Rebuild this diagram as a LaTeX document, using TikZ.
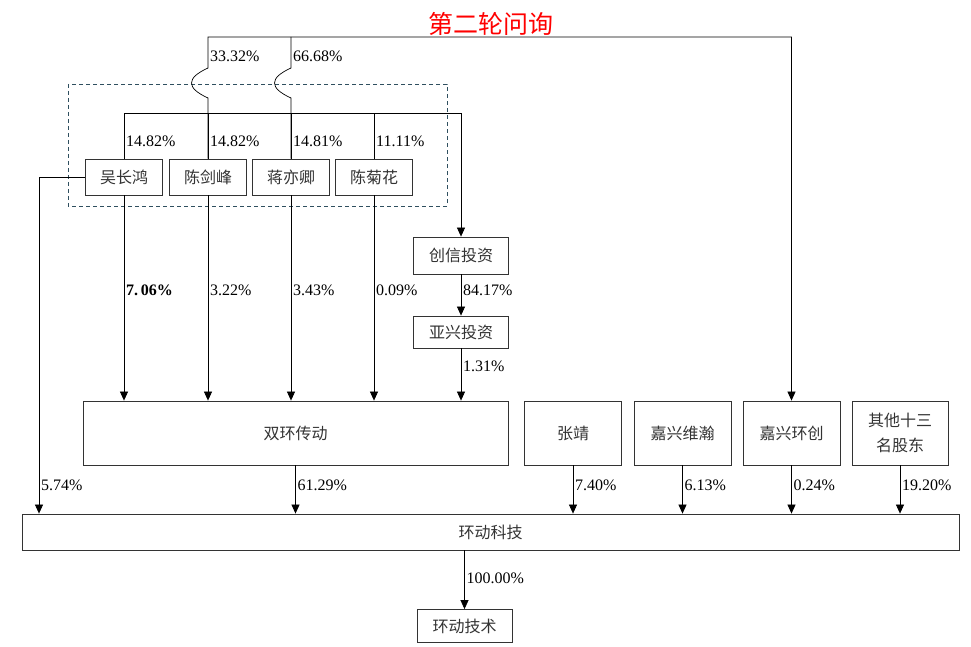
\documentclass[tikz,border=0pt]{standalone}
\usepackage{fontspec}
\setmainfont{Liberation Serif}
\newfontfamily\cjk{Noto Sans CJK SC}
\usetikzlibrary{arrows.meta}
\definecolor{groupline}{RGB}{47,79,95}

\begin{document}
\begin{tikzpicture}[x=1pt, y=-1pt,
			every node/.style = {font=\fontsize{16}{24}\selectfont},
			entity/.style = {draw=black!80, line width=0.8pt, inner sep=0pt, align=center, text=black!80, font=\cjk\fontsize{16}{25}\selectfont},
			person/.style = {entity, minimum width=77pt, minimum height=36pt},
			holder/.style = {entity, minimum width=96pt, minimum height=64pt},
			share/.style = {anchor=west, inner sep=2pt},
			link/.style = {line width=0.7pt},
			flow/.style = {line width=0.7pt, -{Triangle[length=9pt,width=8pt]}}]
			
			\useasboundingbox (0,0) rectangle (971,647);
			
			\node[text=red, font=\cjk\fontsize{25}{30}\selectfont] (title) at (491,24) {第二轮问询};
			
			% persons
			\node[person] (wu) at (124,177) {吴长鸿};
			\node[person] (chenjf) at (208,177) {陈剑峰};
			\node[person] (jiang) at (291,177) {蒋亦卿};
			\node[person] (chenjh) at (374,177) {陈菊花};
			\draw[groupline, line width=0.7pt, dash pattern=on 4pt off 3pt] (68,84) rectangle (447,206);
			
			% companies
			\node[entity, minimum width=95pt, minimum height=37pt] (chuangxin) at (461,255.5) {创信投资};
			\node[entity, minimum width=95pt, minimum height=32pt] (yaxing) at (461,332) {亚兴投资};
			\node[entity, minimum width=425pt, minimum height=64pt] (shuanghuan) at (295.5,433) {双环传动};
			\node[holder, minimum width=97pt] (zhangjing) at (573,433) {张靖};
			\node[holder, minimum width=97pt] (weihan) at (682.5,433) {嘉兴维瀚};
			\node[holder, minimum width=97pt] (huanchuang) at (791.5,433) {嘉兴环创};
			\node[holder] (others) at (900,433) {其他十三\\名股东};
			\node[entity, minimum width=937pt, minimum height=36pt] (huandong) at (490.5,532) {环动科技};
			\node[entity, minimum width=95pt, minimum height=33pt] (jishu) at (464.5,626) {环动技术};
			
			% holdings in chuangxin
			\coordinate (bar) at (461,113);
			\draw[flow] (wu.north) |- (bar) -- (chuangxin.north);
			\foreach \p in {chenjf, jiang, chenjh}
			\draw[link] (\p.north) -- (\p.north |- bar);
			\foreach \p/\v in {wu/14.82, chenjf/14.82, jiang/14.81, chenjh/11.11}
			\node[share] at (\p.north |- 0,141) {\v\%};
			
			% holdings in huanchuang
			\coordinate (top) at (0,37);
			\draw[flow] (chenjf.north) -- (208,98) .. controls (186,88) and (186,78) .. (208,68) -- (chenjf.north |- top) -| (huanchuang.north);
			\draw[link] (jiang.north) -- (291,98) .. controls (269,88) and (269,78) .. (291,68) -- (jiang.north |- top);
			\node[share] at (208,56) {33.32\%};
			\node[share] at (291,56) {66.68\%};
			
			% holdings in shuanghuan
			\foreach \p in {wu, chenjf, jiang, chenjh}
			\draw[flow] (\p.south) -- (\p.south |- shuanghuan.north);
			\node[share, font=\bfseries\fontsize{16}{24}\selectfont] at (wu.south |- 0,290) {7.\,06\%};
			\foreach \p/\v in {chenjf/3.22, jiang/3.43, chenjh/0.09}
			\node[share] at (\p.south |- 0,290) {\v\%};
			\draw[flow] (chuangxin) -- (yaxing);
			\node[share] at (chuangxin.south |- 0,290) {84.17\%};
			\draw[flow] (yaxing) -- (yaxing.south |- shuanghuan.north);
			\node[share] at (yaxing.south |- 0,366) {1.31\%};
			
			% holdings in huandong
			\coordinate (side) at (39,0);
			\draw[flow] (wu.west) -| (side |- huandong.north);
			\node[share] at (side |- 0,485) {5.74\%};
			\foreach \p/\v in {shuanghuan/61.29, zhangjing/7.40, weihan/6.13, huanchuang/0.24, others/19.20}
			{
				\draw[flow] (\p.south) -- (\p.south |- huandong.north);
				\node[share] at (\p.south |- 0,485) {\v\%};
			}
			\draw[flow] (jishu.north |- huandong.south) -- (jishu.north);
			\node[share] at (jishu.north |- 0,578) {100.00\%};
\end{tikzpicture}
\end{document}
